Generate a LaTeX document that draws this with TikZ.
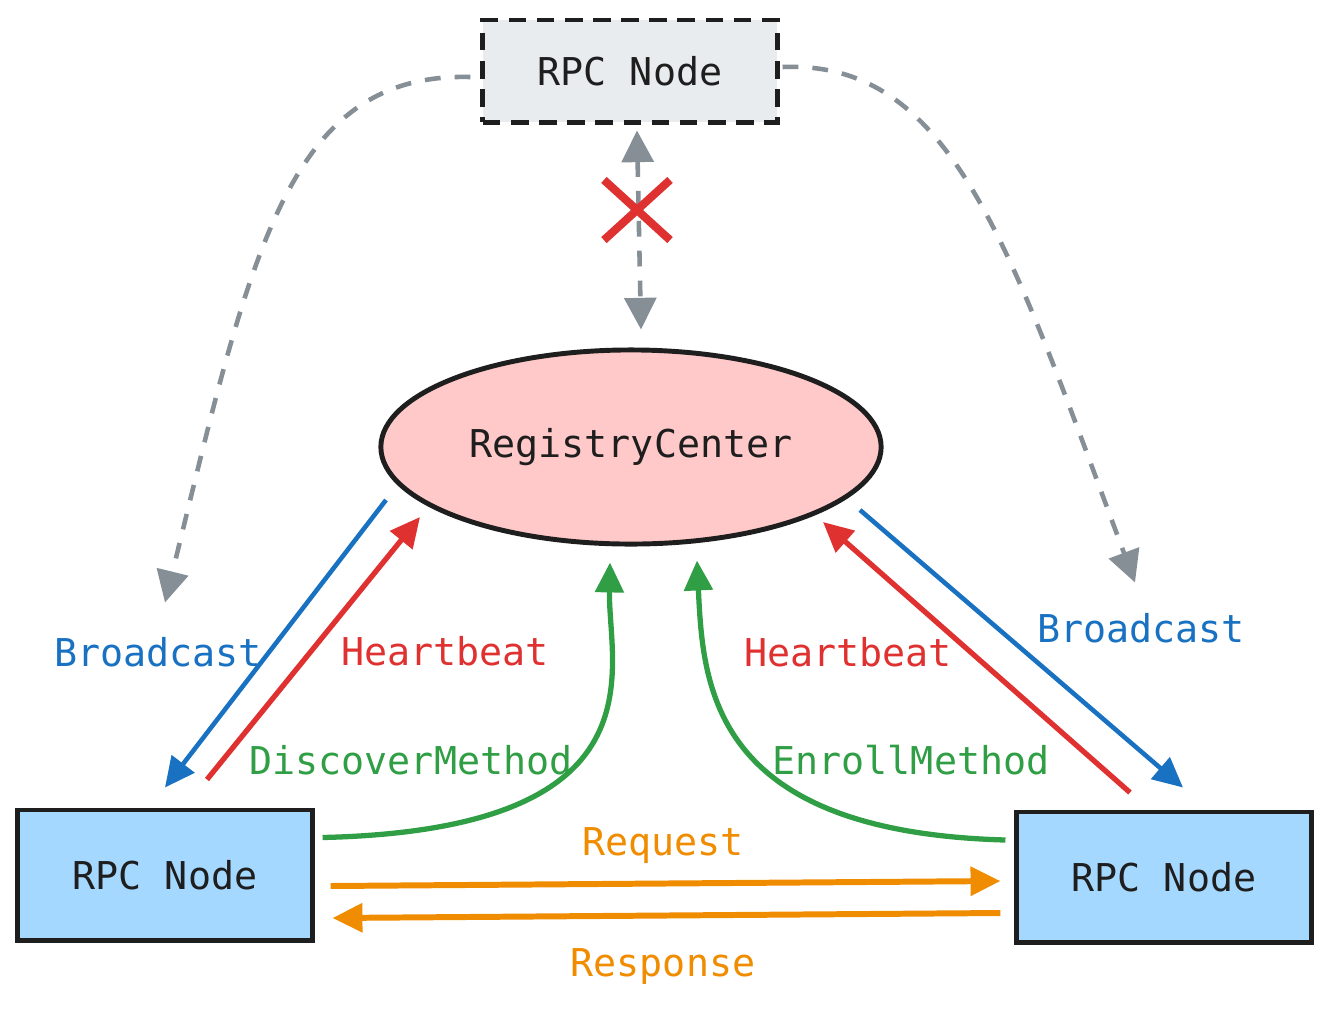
\documentclass[tikz,border=0pt]{standalone}
\usepackage{fontspec}
\setmonofont{DejaVu Sans Mono}
\usetikzlibrary{arrows.meta,shapes.geometric,shapes.misc}
\definecolor{ink}{HTML}{1E1E1E}
\definecolor{nodeblue}{HTML}{A5D8FF}
\definecolor{regpink}{HTML}{FFC9C9}
\definecolor{idlegray}{HTML}{E9ECEF}
\definecolor{linkgray}{HTML}{868E96}
\definecolor{castblue}{HTML}{1971C2}
\definecolor{beatred}{HTML}{E03131}
\definecolor{methgreen}{HTML}{2F9E44}
\definecolor{callorange}{HTML}{F08C00}

\begin{document}
\begin{tikzpicture}[x=0.01cm, y=-0.01cm,
  font=\ttfamily\fontsize{10.9}{13}\selectfont, text=ink,
  tip/.style={-{Triangle[length=8.5pt,width=8pt]}},
  rpcnode/.style={rectangle, draw=ink, line width=1.4pt, fill=nodeblue,
                  minimum width=2.94cm, minimum height=1.3cm},
  deadnode/.style={rectangle, draw=ink, line width=1.4pt, fill=idlegray,
                   dash pattern=on 5pt off 3pt, minimum width=2.94cm, minimum height=1.02cm},
  registry/.style={ellipse, draw=ink, line width=1.4pt, fill=regpink,
                   inner sep=0pt, minimum width=5cm, minimum height=1.94cm},
  sync/.style={linkgray, line width=1.3pt, dash pattern=on 4.5pt off 4pt},
  cast/.style={castblue, line width=1.3pt},
  beat/.style={beatred, line width=1.5pt},
  meth/.style={methgreen, line width=1.5pt},
  call/.style={callorange, line width=1.7pt}
]
  \useasboundingbox (0,0) rectangle (1329,1008);

  \node[deadnode] (tp) at (630,71)  {RPC Node};
  \node[registry] (rc) at (631,447) {RegistryCenter};
  \node[rpcnode]  (bl) at (165,875) {RPC Node};
  \node[rpcnode]  (br) at (1164,877) {RPC Node};

  \draw[sync, -{Triangle[length=9pt,width=9pt]}] ([shift={(-10,6)}]tp.west)
    .. controls +(-185,-5) and +(85,-345) .. ([shift={(0,-205)}]bl.north);
  \draw[sync, -{Triangle[length=9pt,width=9pt]}] ([shift={(3,-4)}]tp.east)
    .. controls +(170,-7) and +(-125,-335) .. ([shift={(-29,-227)}]br.north);
  \draw[sync, {Triangle[length=9pt,width=9pt]}-{Triangle[length=9pt,width=9pt]}]
    ([shift={(7,6)}]tp.south) -- ([shift={(10,-18)}]rc.north);
  \node[cross out, draw=beatred, line width=2.3pt, minimum width=0.58cm,
        minimum height=0.52cm] (cut) at (637,210) {};

  \draw[cast, tip] ([shift={(-245,53)}]rc.center) -- ([shift={(0,-20)}]bl.north);
  \draw[beat, tip] ([shift={(42,-28)}]bl.north) -- ([shift={(-211,70)}]rc.center);
  \draw[beat, tip] ([shift={(-34,-17)}]br.north) -- ([shift={(192,75)}]rc.center);
  \draw[cast, tip] ([shift={(229,63)}]rc.center) -- ([shift={(19,-22)}]br.north);

  \draw[meth, tip] ([shift={(8,30)}]bl.north east)
    .. controls +(345,-8) and +(-2,105) .. ([shift={(-21,16)}]rc.south);
  \draw[meth, tip] ([shift={(-9,-37)}]br.west)
    .. controls +(-295,-8) and +(6,125) .. ([shift={(66,14)}]rc.south);

  \draw[call, tip] ([shift={(16,11)}]bl.east) -- ([shift={(-14,4)}]br.west);
  \draw[call, tip] ([shift={(-14,36)}]br.west) -- ([shift={(18,43)}]bl.east);

  \node[castblue]   (lbcast) at (158,652)  {Broadcast};
  \node[castblue]   (rbcast) at (1141,628) {Broadcast};
  \node[beatred]    (lbeat)  at (445,651)  {Heartbeat};
  \node[beatred]    (rbeat)  at (848,652)  {Heartbeat};
  \node[methgreen]  (disc)   at (411,760)  {DiscoverMethod};
  \node[methgreen]  (enrl)   at (911,760)  {EnrollMethod};
  \node[callorange] (req)    at (663,846)  {Request};
  \node[callorange] (resp)   at (663,966)  {Response};
\end{tikzpicture}
\end{document}
